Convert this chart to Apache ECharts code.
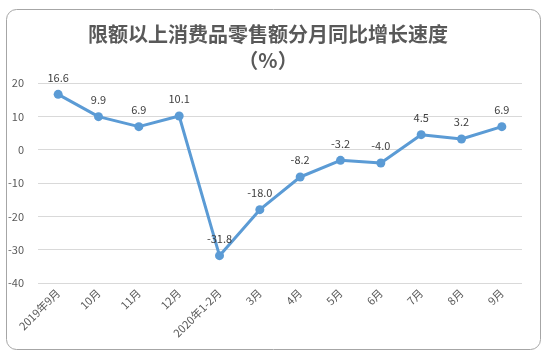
<!DOCTYPE html>
<html><head><meta charset="utf-8">
<script src="https://cdn.jsdelivr.net/npm/echarts@6/dist/echarts.min.js"></script>
<style>html,body{margin:0;padding:0;background:#fff}#c{width:547px;height:362px}</style>
</head><body><div id="c"></div>
<script>
const categories = ['2019年9月','10月','11月','12月','2020年1-2月','3月','4月','5月','6月','7月','8月','9月'];
const values = [16.6, 9.9, 6.9, 10.1, -31.8, -18.0, -8.2, -3.2, -4.0, 4.5, 3.2, 6.9];
const yTicks = {min: -40, max: 20, interval: 10};
const font = '"Noto Sans CJK SC", "Microsoft YaHei", sans-serif';
const chart = echarts.init(document.getElementById('c'));
chart.setOption({
  backgroundColor: '#fff',
  animation: false,
  graphic: [{
    type: 'rect', shape: {x: 6.5, y: 9.5, width: 534, height: 340, r: 10},
    style: {fill: 'none', stroke: '#a6a6a6', lineWidth: 1}, z: 0
  }],
  title: {
    text: '限额以上消费品零售额分月同比增长速度\n（%）',
    left: 263, textAlign: 'center', top: 16,
    textStyle: {fontFamily: font, fontSize: 20, fontWeight: 'bold', color: '#595959', lineHeight: 26}
  },
  grid: {left: 38, right: 25, top: 83, bottom: 79},
  xAxis: {
    type: 'category', data: categories, boundaryGap: true,
    axisLine: {show: false}, axisTick: {show: false},
    axisLabel: {rotate: 45, fontSize: 11, color: '#595959', fontFamily: font, margin: 8, interval: 0}
  },
  yAxis: {
    type: 'value', min: yTicks.min, max: yTicks.max, interval: yTicks.interval,
    axisLine: {show: false}, axisTick: {show: false},
    axisLabel: {fontSize: 11, color: '#595959', fontFamily: font, margin: 14},
    splitLine: {lineStyle: {color: '#d9d9d9', width: 1}}
  },
  series: [{
    type: 'line', data: values,
    lineStyle: {color: '#5b9bd5', width: 3},
    itemStyle: {color: '#5b9bd5'},
    symbol: 'circle', symbolSize: 9,
    label: {show: true, position: 'top', distance: 7, fontSize: 11, color: '#404040', fontFamily: font,
      formatter: p => p.value.toFixed(1)}
  }]
});
</script></body></html>
